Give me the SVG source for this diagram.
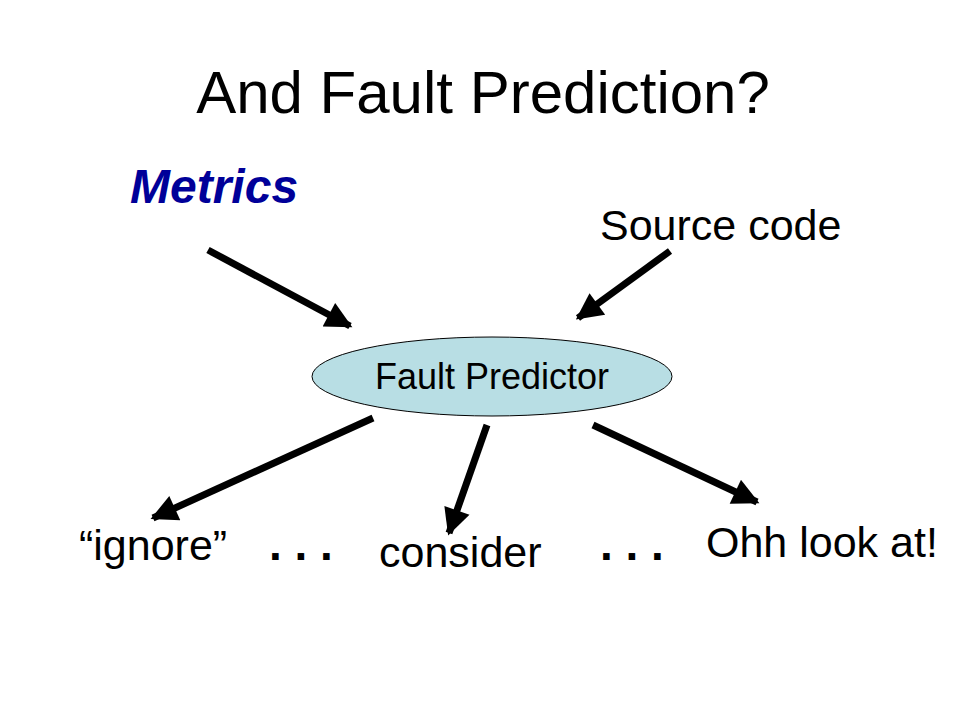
<svg xmlns="http://www.w3.org/2000/svg" width="960" height="720" viewBox="0 0 960 720">
<style>
text{font-family:"Liberation Sans",Arial,sans-serif;fill:#000}
.lbl{font-size:43px}
.dots{font-size:46px;font-weight:bold}
.conn{stroke:#000;stroke-width:7;fill:none}
</style>
<defs>
<marker id="ah" viewBox="0 0 10 10" refX="9" refY="5" markerWidth="4.2" markerHeight="3.8" orient="auto" markerUnits="strokeWidth">
<path d="M0,0 L10,5 L0,10 z" fill="#000"/>
</marker>
</defs>
<rect width="960" height="720" fill="#fff"/>
<text x="483" y="113" font-size="60" text-anchor="middle">And Fault Prediction?</text>
<g id="metrics"><text x="130" y="203" font-size="48" font-weight="bold" font-style="italic" style="fill:#000099">Metrics</text></g>
<g id="source"><text class="lbl" x="600" y="240">Source code</text></g>
<g id="predictor">
<ellipse cx="492" cy="376.5" rx="180" ry="39.5" fill="#b8dee4" stroke="#000" stroke-width="1"/>
<text x="492" y="389" font-size="36" text-anchor="middle">Fault Predictor</text>
</g>
<g id="ignore"><text class="lbl" x="79" y="560">“ignore”</text></g>
<g id="dots1"><text class="dots" x="269" y="560">. . .</text></g>
<g id="consider"><text class="lbl" x="379" y="567">consider</text></g>
<g id="dots2"><text class="dots" x="600" y="560">. . .</text></g>
<g id="ohh"><text class="lbl" x="706" y="557">Ohh look at!</text></g>
<g id="connectors">
<line class="conn" x1="208" y1="250" x2="350" y2="326" marker-end="url(#ah)"/>
<line class="conn" x1="670" y1="251" x2="578" y2="318" marker-end="url(#ah)"/>
<line class="conn" x1="373" y1="418" x2="153" y2="518" marker-end="url(#ah)"/>
<line class="conn" x1="487" y1="425" x2="449" y2="533" marker-end="url(#ah)"/>
<line class="conn" x1="593" y1="425" x2="757" y2="502" marker-end="url(#ah)"/>
</g>
</svg>
